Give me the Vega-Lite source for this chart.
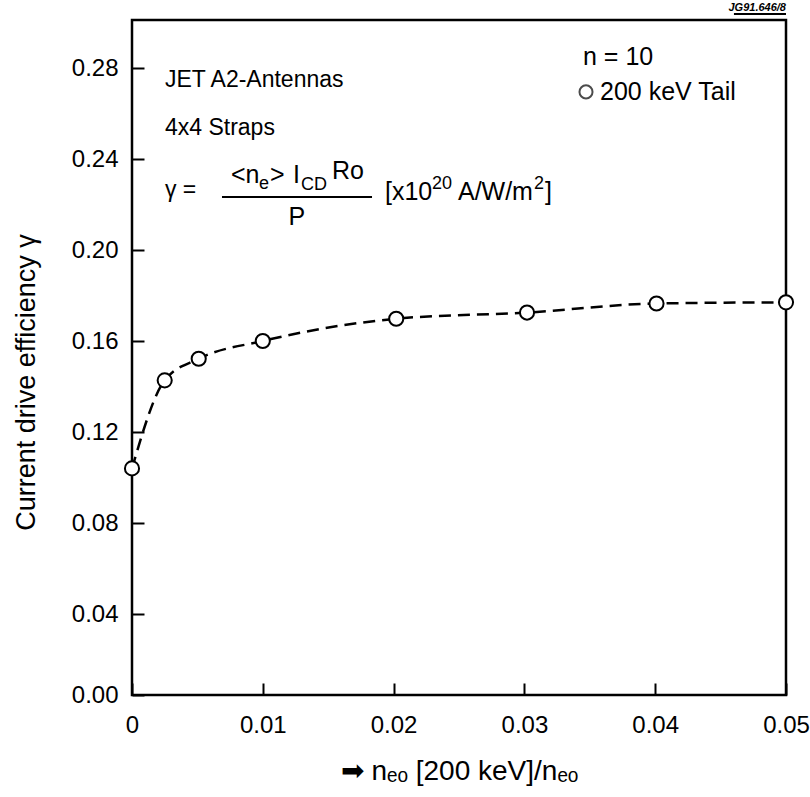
{
  "$schema": "https://vega.github.io/schema/vega-lite/v6.json",
  "width": 654,
  "height": 675,
  "autosize": {"type": "none"},
  "padding": {"left": 132, "top": 20, "right": 24, "bottom": 102},
  "background": "white",
  "view": {"stroke": "black", "strokeWidth": 2.5},
  "config": {
    "font": "Liberation Sans",
    "text": {"font": "Liberation Sans", "color": "black"},
    "axis": {
      "domain": false,
      "grid": false,
      "tickColor": "black",
      "tickWidth": 2,
      "labelColor": "black",
      "titleColor": "black",
      "labelFont": "Liberation Sans",
      "titleFont": "Liberation Sans",
      "labelFontSize": 24,
      "titleFontWeight": "normal"
    }
  },
  "layer": [
    {
      "data": {"values": [
        {"x": 0, "y": 0.104},
        {"x": 0.0025, "y": 0.1427},
        {"x": 0.0051, "y": 0.1522},
        {"x": 0.01, "y": 0.160},
        {"x": 0.0202, "y": 0.1698},
        {"x": 0.0302, "y": 0.1725},
        {"x": 0.0401, "y": 0.1765},
        {"x": 0.05, "y": 0.177}
      ]},
      "layer": [
        {
          "mark": {"type": "line", "interpolate": "monotone", "color": "black", "strokeWidth": 2.5, "strokeDash": [12, 7]},
          "encoding": {
            "x": {"field": "x", "type": "quantitative", "scale": {"domain": [0, 0.05], "nice": false},
              "axis": {"values": [0, 0.01, 0.02, 0.03, 0.04, 0.05], "offset": -12, "tickSize": 12, "labelPadding": 18,
                "labelExpr": "datum.value == 0 ? '0' : format(datum.value, '.2f')",
                "title": "➡   nₑₒ [200 keV]/nₑₒ", "titleFontSize": 28, "titlePadding": 20, "labelFlush": false}},
            "y": {"field": "y", "type": "quantitative", "scale": {"domain": [0.0044, 0.3011], "nice": false, "zero": false},
              "axis": {"values": [0.0044, 0.04, 0.08, 0.12, 0.16, 0.2, 0.24, 0.28], "offset": -12, "tickSize": 12, "labelPadding": 14,
                "labelExpr": "datum.value < 0.01 ? '0.00' : format(datum.value, '.2f')",
                "title": "Current drive efficiency γ", "titleFontSize": 27, "titlePadding": 31, "titleY": 362}}
          }
        },
        {
          "mark": {"type": "point", "shape": "circle", "size": 200, "filled": false, "fill": "white", "fillOpacity": 1, "stroke": "black", "strokeWidth": 2, "opacity": 1},
          "encoding": {
            "x": {"field": "x", "type": "quantitative"},
            "y": {"field": "y", "type": "quantitative"}
          }
        }
      ]
    },
    {
      "data": {"values": [
        {"x": 0.00252, "y": 0.2747, "label": "JET A2-Antennas"},
        {"x": 0.00252, "y": 0.2536, "label": "4x4 Straps"},
        {"x": 0.00252, "y": 0.2264, "label": "γ ="}
      ]},
      "mark": {"type": "text", "align": "left", "baseline": "middle", "fontSize": 23},
      "encoding": {
        "x": {"field": "x", "type": "quantitative"},
        "y": {"field": "y", "type": "quantitative"},
        "text": {"field": "label"}
      }
    },
    {
      "data": {"values": [
        {"x": 0.03448, "y": 0.2848, "label": "n = 10"},
        {"x": 0.03578, "y": 0.2695, "label": "200 keV Tail"}
      ]},
      "mark": {"type": "text", "align": "left", "baseline": "middle", "fontSize": 25},
      "encoding": {
        "x": {"field": "x", "type": "quantitative"},
        "y": {"field": "y", "type": "quantitative"},
        "text": {"field": "label"}
      }
    },
    {
      "data": {"values": [
        {"x": 0.00757, "y": 0.2295, "label": "<n"},
        {"x": 0.01055, "y": 0.2295, "label": ">"},
        {"x": 0.01231, "y": 0.2295, "label": "I"},
        {"x": 0.01529, "y": 0.2312, "label": "Ro"},
        {"x": 0.01934, "y": 0.2220, "label": "[x10"},
        {"x": 0.02492, "y": 0.2220, "label": "A/W/m"},
        {"x": 0.03157, "y": 0.2220, "label": "]"}
      ]},
      "mark": {"type": "text", "align": "left", "baseline": "alphabetic", "fontSize": 25},
      "encoding": {
        "x": {"field": "x", "type": "quantitative"},
        "y": {"field": "y", "type": "quantitative"},
        "text": {"field": "label"}
      }
    },
    {
      "data": {"values": [
        {"x": 0.00971, "y": 0.2268, "label": "e"},
        {"x": 0.01292, "y": 0.2264, "label": "CD"},
        {"x": 0.02294, "y": 0.2268, "label": "20"},
        {"x": 0.03073, "y": 0.2268, "label": "2"}
      ]},
      "mark": {"type": "text", "align": "left", "baseline": "alphabetic", "fontSize": 18},
      "encoding": {
        "x": {"field": "x", "type": "quantitative"},
        "y": {"field": "y", "type": "quantitative"},
        "text": {"field": "label"}
      }
    },
    {
      "data": {"values": [
        {"x": 0.01261, "y": 0.2110, "label": "P"}
      ]},
      "mark": {"type": "text", "align": "center", "baseline": "alphabetic", "fontSize": 25},
      "encoding": {
        "x": {"field": "x", "type": "quantitative"},
        "y": {"field": "y", "type": "quantitative"},
        "text": {"field": "label"}
      }
    },
    {
      "data": {"values": [
        {"x": 0.05, "y": 0.3011, "label": "JG91.646/8"}
      ]},
      "mark": {"type": "text", "align": "right", "baseline": "bottom", "dy": -7, "fontSize": 11, "fontWeight": "bold", "fontStyle": "italic"},
      "encoding": {
        "x": {"field": "x", "type": "quantitative"},
        "y": {"field": "y", "type": "quantitative"},
        "text": {"field": "label"}
      }
    },
    {
      "data": {"values": [
        {"x": 0.00688, "x2": 0.01835, "y": 0.2233},
        {"x": 0.04602, "x2": 0.05, "y": 0.3037}
      ]},
      "mark": {"type": "rule", "color": "black", "strokeWidth": 2},
      "encoding": {
        "x": {"field": "x", "type": "quantitative"},
        "x2": {"field": "x2"},
        "y": {"field": "y", "type": "quantitative"}
      }
    },
    {
      "data": {"values": [
        {"x": 0.03471, "y": 0.2695}
      ]},
      "mark": {"type": "point", "shape": "circle", "size": 170, "filled": false, "stroke": "black", "strokeWidth": 2},
      "encoding": {
        "x": {"field": "x", "type": "quantitative"},
        "y": {"field": "y", "type": "quantitative"}
      }
    }
  ]
}
